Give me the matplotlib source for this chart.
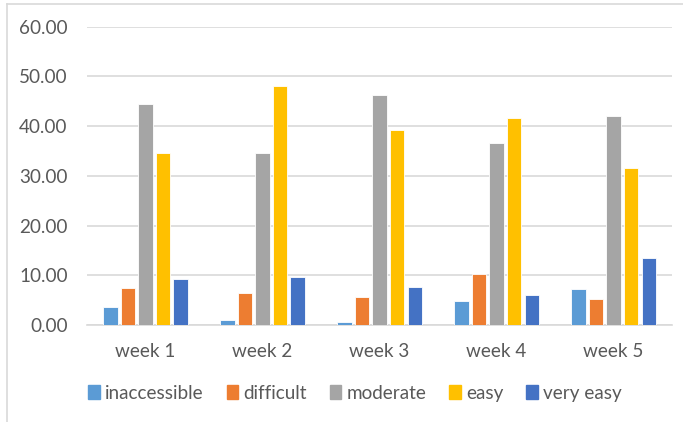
import numpy as np
import matplotlib.pyplot as plt
from matplotlib.lines import Line2D

plt.rcParams["font.family"] = ["Lato", "DejaVu Sans"]

weeks = ["week 1", "week 2", "week 3", "week 4", "week 5"]
levels = ["inaccessible", "difficult", "moderate", "easy", "very easy"]
inaccessible = [3.7, 1.0, 0.5, 4.8, 7.2]
difficult = [7.5, 6.4, 5.7, 10.3, 5.2]
moderate = [44.5, 34.5, 46.3, 36.7, 42.0]
easy = [34.5, 48.0, 39.3, 41.6, 31.5]
very_easy = [9.3, 9.7, 7.6, 6.1, 13.5]
series = [inaccessible, difficult, moderate, easy, very_easy]
colors = ["#5B9BD5", "#ED7D31", "#A5A5A5", "#FFC000", "#4472C4"]

TXT = "#595959"
GRID = "#D9D9D9"
FS = 13.6

fig = plt.figure(figsize=(6.83, 4.22), dpi=100)
ax = fig.add_axes([0.1274, 0.2299, 0.8566, 0.7068])

x = np.arange(len(weeks))
step = 0.15
width = 0.122
for i, (vals, col, lab) in enumerate(zip(series, colors, levels)):
    ax.bar(x + (i - 2) * step, vals, width, color=col, label=lab,
           edgecolor="white", linewidth=0.6, zorder=3)

ax.set_xlim(-0.5, len(weeks) - 0.5)
ax.set_ylim(0, 60)
ax.set_yticks(np.arange(0, 61, 10))
ax.set_yticklabels([f"{v:.2f}" for v in range(0, 61, 10)])
ax.set_xticks(x)
ax.set_xticklabels(weeks)
ax.tick_params(axis="both", length=0, labelsize=FS, colors=TXT)
ax.tick_params(axis="y", pad=14)
ax.tick_params(axis="x", pad=13)
ax.grid(axis="y", color=GRID, lw=1.2, zorder=0)
for s in ["top", "right", "left"]:
    ax.spines[s].set_visible(False)
ax.spines["bottom"].set_color(GRID)
ax.spines["bottom"].set_linewidth(1.2)

handles = [plt.Rectangle((0, 0), 1, 1, color=c) for c in colors]
fig.legend(handles, levels, loc="center", bbox_to_anchor=(0.52, 0.068),
           ncol=5, frameon=False, fontsize=FS, labelcolor=TXT,
           handlelength=0.6, handleheight=0.75, handletextpad=0.3,
           columnspacing=1.2)

# chart area border (top and left visible)
fig.add_artist(Line2D([7 / 683, 1], [1 - 4 / 422, 1 - 4 / 422],
                      color=GRID, lw=1.2, transform=fig.transFigure))
fig.add_artist(Line2D([7 / 683, 7 / 683], [0, 1 - 4 / 422],
                      color=GRID, lw=1.2, transform=fig.transFigure))

fig.savefig("out.png", dpi=100)
